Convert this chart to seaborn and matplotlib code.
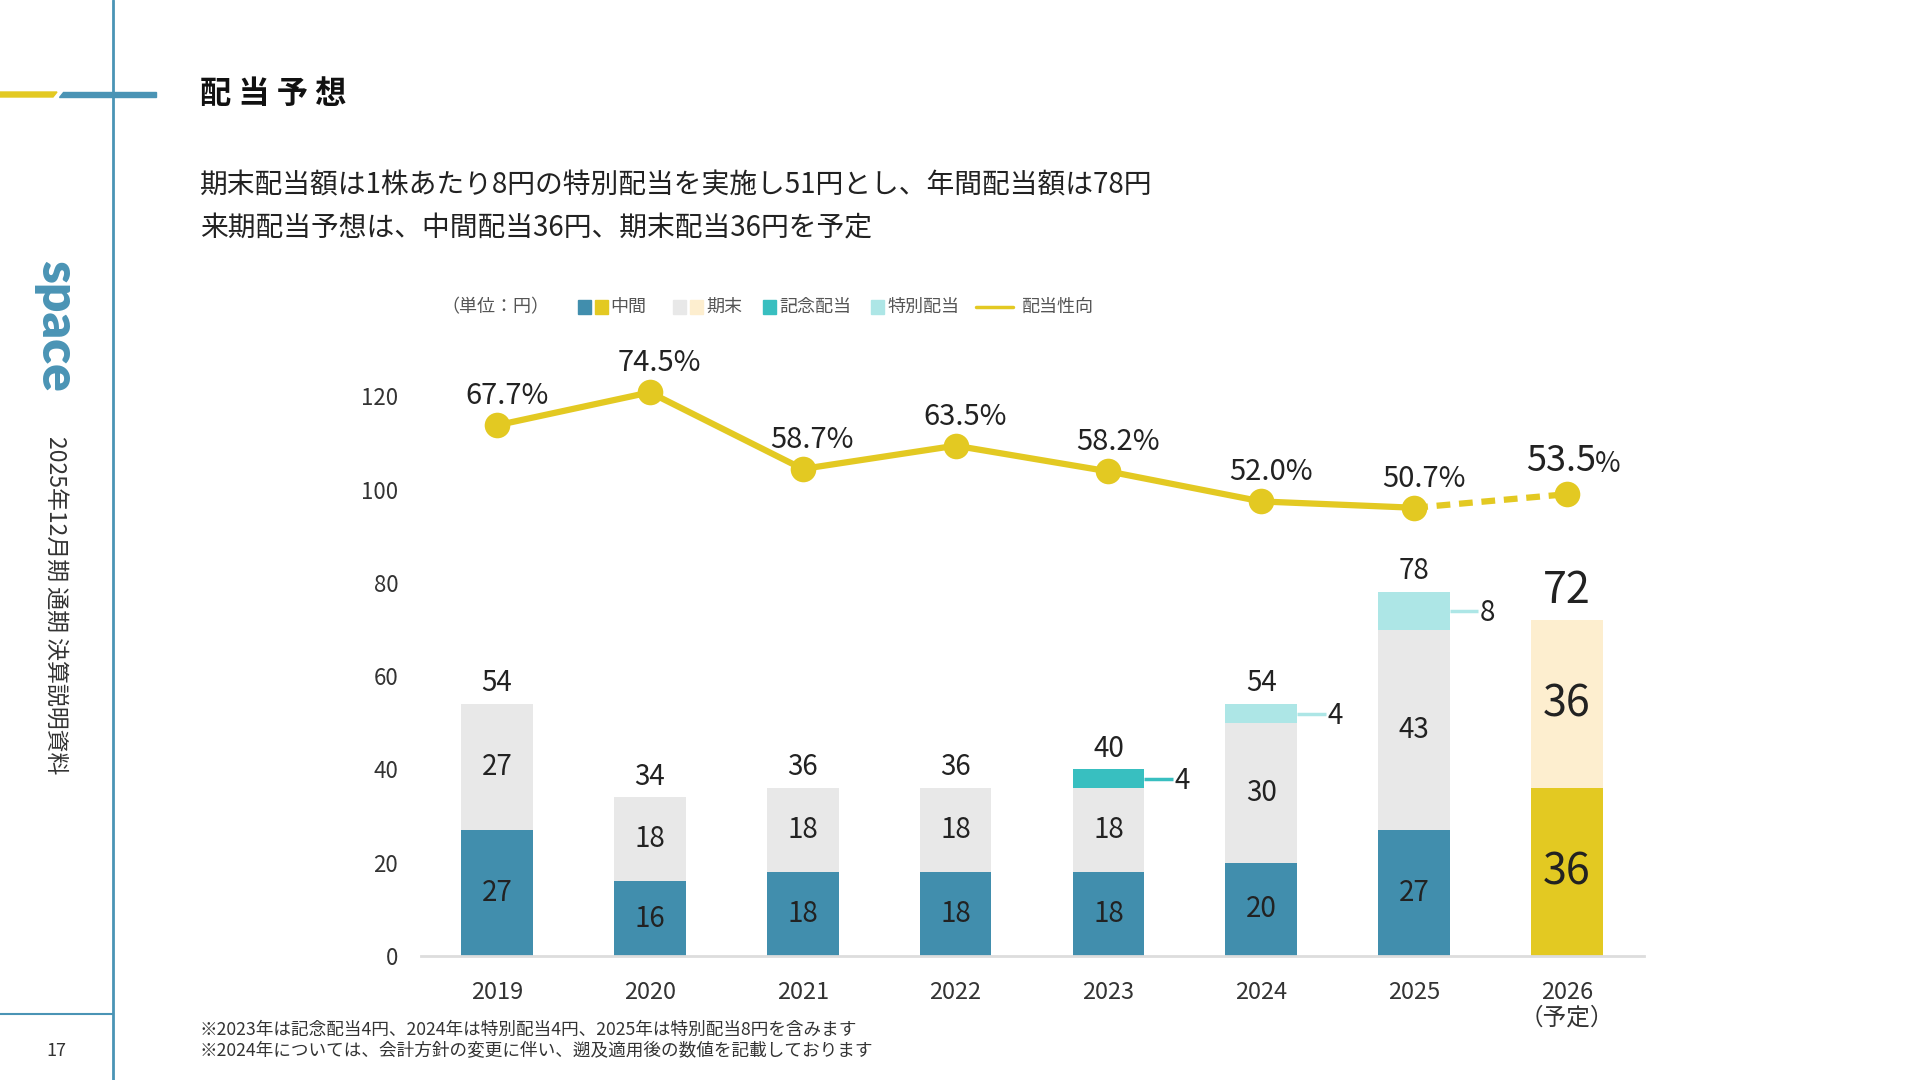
import matplotlib
matplotlib.use("Agg")
import matplotlib.pyplot as plt
import matplotlib.patches as mpatches
import matplotlib.lines as mlines
import seaborn as sns
import pandas as pd
import numpy as np

sns.set_theme(style="white")
plt.rcParams['font.family'] = ['Noto Sans CJK JP', 'DejaVu Sans']

# ---------------- data ----------------
years = ["2019", "2020", "2021", "2022", "2023", "2024", "2025", "2026\n（予定）"]
interim = [27, 16, 18, 18, 18, 20, 27, 36]          # 中間
year_end = [27, 18, 18, 18, 18, 30, 43, 36]         # 期末
commemorative = [0, 0, 0, 0, 4, 0, 0, 0]            # 記念配当
special = [0, 0, 0, 0, 0, 4, 8, 0]                  # 特別配当
totals = [54, 34, 36, 36, 40, 54, 78, 72]
payout = [67.7, 74.5, 58.7, 63.5, 58.2, 52.0, 50.7, 53.5]   # 配当性向 (%)
payout_labels = ["67.7%", "74.5%", "58.7%", "63.5%", "58.2%", "52.0%", "50.7%", "53.5"]

C_BLUE = "#418EAD"
C_YELLOW = "#E3C922"
C_GRAY = "#E8E8E8"
C_CREAM = "#FDEECF"
C_TEAL = "#38BFC0"
C_CYAN = "#ADE6E6"
C_SIDE = "#4A94B5"
C_TXT = "#222222"

forecast = [False] * 7 + [True]

df = pd.DataFrame({
    "year": years,
    "interim": interim,
    "end": year_end,
    "comm": commemorative,
    "special": special,
})
df["lvl2"] = df["interim"] + df["end"]
df["lvl3"] = df["lvl2"] + df["comm"] + df["special"]

pal_mid = [C_YELLOW if f else C_BLUE for f in forecast]
pal_end = [C_CREAM if f else C_GRAY for f in forecast]
pal_top = [C_TEAL if c > 0 else C_CYAN for c in commemorative]

# ---------------- figure ----------------
W, H = 1920, 1080
fig = plt.figure(figsize=(19.2, 10.8), dpi=100)
fig.patch.set_facecolor("white")

ax = fig.add_axes([420.5 / W, (H - 956) / H, 1223 / W, 135 * 4.663 / H])
BW = 0.47
sns.barplot(data=df, x="year", y="lvl3", hue="year", palette=pal_top, legend=False,
            width=BW, ax=ax, saturation=1, linewidth=0)
sns.barplot(data=df, x="year", y="lvl2", hue="year", palette=pal_end, legend=False,
            width=BW, ax=ax, saturation=1, linewidth=0)
sns.barplot(data=df, x="year", y="interim", hue="year", palette=pal_mid, legend=False,
            width=BW, ax=ax, saturation=1, linewidth=0)

ax.set_xlim(-0.5, 7.5)
ax.set_ylim(0, 135)
ax.set_yticks([0, 20, 40, 60, 80, 100, 120])
ax.set_xlabel("")
ax.set_ylabel("")
for s in ["top", "right", "left"]:
    ax.spines[s].set_visible(False)
ax.spines["bottom"].set_color("#DDDDDD")
ax.spines["bottom"].set_linewidth(2)
ax.tick_params(axis="y", length=0, pad=16, labelsize=16, labelcolor="#333333")
ax.tick_params(axis="x", length=0, pad=18, labelsize=17, labelcolor="#333333")
for lab in ax.get_xticklabels():
    lab.set_linespacing(1.15)
ax.set_facecolor("white")

# segment labels
for i in range(len(years)):
    big = forecast[i]
    fs = 31 if big else 20
    ax.text(i, interim[i] / 2, str(interim[i]), ha="center", va="center",
            fontsize=fs, color=C_TXT)
    ax.text(i, interim[i] + year_end[i] / 2, str(year_end[i]), ha="center", va="center",
            fontsize=fs, color=C_TXT)
    ax.annotate(str(totals[i]), (i, totals[i]), xytext=(0, 21 if big else 15),
                textcoords="offset points", ha="center", va="center",
                fontsize=fs, color=C_TXT)
    extra = commemorative[i] + special[i]
    if extra > 0:
        col = C_TEAL if commemorative[i] > 0 else C_CYAN
        ymid = interim[i] + year_end[i] + extra / 2
        ax.plot([i + BW / 2, i + 0.42], [ymid, ymid], color=col, lw=2.5,
                solid_capstyle="butt")
        ax.text(i + 0.48, ymid - 0.5, str(extra), ha="center", va="center",
                fontsize=20, color=C_TXT)

# payout ratio line on twin axis
ax2 = ax.twinx()
a, b = 43.4, 1.04
ax2.set_ylim((0 - a) / b, (135 - a) / b)
ax2.axis("off")
xs = np.arange(len(years))
sns.lineplot(x=xs[:7], y=payout[:7], ax=ax2, color=C_YELLOW, lw=4.5)
sns.lineplot(x=xs[6:], y=payout[6:], ax=ax2, color=C_YELLOW, lw=4.5,
             linestyle=(0, (2.2, 1.4)))
sns.scatterplot(x=xs, y=payout, ax=ax2, color=C_YELLOW, s=340, linewidth=0, zorder=5)
ax2.set_xlim(-0.5, 7.5)
for i in range(len(years)):
    if i == 7:
        ax2.annotate(payout_labels[i], (i, payout[i]), xytext=(-4, 24),
                     textcoords="offset points", ha="center", va="center",
                     fontsize=26, color=C_TXT)
        ax2.annotate("%", (i, payout[i]), xytext=(29, 22),
                     textcoords="offset points", ha="center", va="center",
                     fontsize=20, color=C_TXT)
    else:
        ax2.annotate(payout_labels[i], (i, payout[i]), xytext=(7, 21),
                     textcoords="offset points", ha="center", va="center",
                     fontsize=21, color=C_TXT)

# ---------------- legend (manual) ----------------
ly = 1 - 307 / H
def fx(px):
    return px / W
sq = 13
def square(x, color):
    fig.patches.append(mpatches.Rectangle((fx(x), ly - sq / 2 / H), sq / W, sq / H,
                                          transform=fig.transFigure, color=color))
fig.text(fx(441), ly, "（単位：円）", ha="left", va="center", fontsize=13, color="#555555")
square(578, C_BLUE); square(595, C_YELLOW)
fig.text(fx(610), ly, "中間", ha="left", va="center", fontsize=13, color="#555555")
square(673, C_GRAY); square(690, C_CREAM)
fig.text(fx(706), ly, "期末", ha="left", va="center", fontsize=13, color="#555555")
square(763, C_TEAL)
fig.text(fx(779), ly, "記念配当", ha="left", va="center", fontsize=13, color="#555555")
square(871, C_CYAN)
fig.text(fx(887), ly, "特別配当", ha="left", va="center", fontsize=13, color="#555555")
fig.lines.append(mlines.Line2D([fx(976), fx(1013)], [ly, ly], transform=fig.transFigure,
                               color=C_YELLOW, lw=2.5))
fig.text(fx(1022), ly, "配当性向", ha="left", va="center", fontsize=13, color="#555555")

# ---------------- page decoration ----------------
fig.lines.append(mlines.Line2D([fx(113), fx(113)], [0, 1], transform=fig.transFigure,
                               color=C_SIDE, lw=2))
fig.patches.append(mpatches.Polygon([(fx(0), 1 - 92 / H), (fx(57), 1 - 92 / H),
                                     (fx(53), 1 - 97 / H), (fx(0), 1 - 97 / H)],
                                    closed=True, transform=fig.transFigure, color=C_YELLOW))
fig.patches.append(mpatches.Polygon([(fx(63), 1 - 92 / H), (fx(156), 1 - 92 / H),
                                     (fx(156), 1 - 97 / H), (fx(59), 1 - 97 / H)],
                                    closed=True, transform=fig.transFigure, color=C_SIDE))
fig.lines.append(mlines.Line2D([0, fx(113)], [1 - 1014 / H, 1 - 1014 / H], transform=fig.transFigure,
                               color=C_SIDE, lw=1.5))
fig.text(fx(56), 1 - 326 / H, "space", rotation=-90, ha="center", va="center",
         fontsize=37, fontweight="heavy", color=C_SIDE, family=["Lato", "DejaVu Sans"])
fig.text(fx(56), 1 - 605 / H, "2025年12月期 通期 決算説明資料", rotation=-90,
         ha="center", va="center", fontsize=16.5, color="#333333")
fig.text(fx(56), 1 - 1051 / H, "17", ha="center", va="center", fontsize=13, color="#333333")

fig.text(fx(200), 1 - 94 / H, "配 当 予 想", ha="left", va="center", fontsize=22.5,
         fontweight="bold", color="#111111")
fig.text(fx(200), 1 - 185 / H, "期末配当額は1株あたり8円の特別配当を実施し51円とし、年間配当額は78円",
         ha="left", va="center", fontsize=20, color=C_TXT)
fig.text(fx(200), 1 - 228 / H, "来期配当予想は、中間配当36円、期末配当36円を予定",
         ha="left", va="center", fontsize=20, color=C_TXT)
fig.text(fx(200), 1 - 1030 / H, "※2023年は記念配当4円、2024年は特別配当4円、2025年は特別配当8円を含みます",
         ha="left", va="center", fontsize=12.7, color="#333333")
fig.text(fx(200), 1 - 1051 / H, "※2024年については、会計方針の変更に伴い、遡及適用後の数値を記載しております",
         ha="left", va="center", fontsize=12.7, color="#333333")

fig.savefig("out.png", dpi=100, facecolor="white")
